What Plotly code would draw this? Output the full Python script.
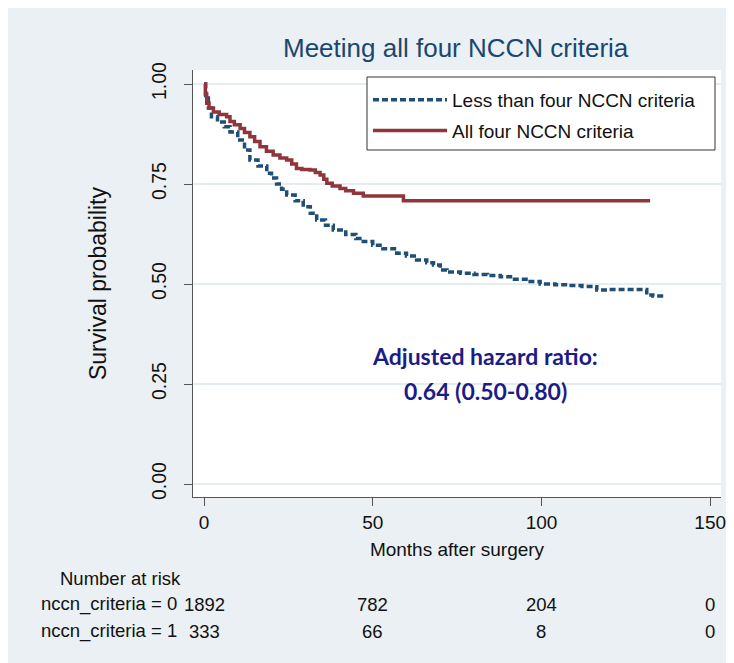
import plotly.graph_objects as go

# ---------------- data ----------------
months_lt4 = [0, 0.5, 1.3, 2.2, 4, 6, 7.7, 10, 12, 13.6, 16, 18.6, 20, 21.5, 23, 24.5, 27, 29.4, 31.5,
              33.4, 36, 38.3, 42, 45, 47.2, 50, 53, 57.1, 60, 63, 66, 68, 70, 72, 76, 80, 84, 87.8,
              92, 96, 99.6, 104, 108, 112, 115.4, 116.4, 120, 125, 130.2, 131.2, 133, 136.2]
surv_lt4 = [1.0, 0.965, 0.94, 0.918, 0.905, 0.893, 0.88, 0.86, 0.835, 0.81, 0.795, 0.777, 0.765, 0.75,
            0.737, 0.7225, 0.708, 0.693, 0.677, 0.66, 0.647, 0.635, 0.624, 0.614, 0.606, 0.597,
            0.588, 0.577, 0.57, 0.56, 0.553, 0.5475, 0.535, 0.53, 0.527, 0.524, 0.521, 0.518, 0.512,
            0.506, 0.50, 0.498, 0.496, 0.494, 0.493, 0.485, 0.486, 0.486, 0.486, 0.4725, 0.47, 0.47]

months_all4 = [0, 0.4, 0.8, 1.5, 2.8, 4.5, 6.7, 7.7, 9, 10.7, 12, 13.6, 15, 16.6, 18.5, 20.5, 22.5,
               24.5, 26, 27.4, 29, 31.4, 33, 34.4, 35.5, 36.4, 38, 40.3, 42, 44.3, 47.2, 58.1, 59.1, 132.2]
surv_all4 = [1.0, 0.975, 0.952, 0.94, 0.93, 0.924, 0.918, 0.906, 0.898, 0.889, 0.879, 0.868, 0.856,
             0.843, 0.832, 0.8225, 0.815, 0.81, 0.80, 0.789, 0.786, 0.785, 0.779, 0.7725, 0.762, 0.752,
             0.745, 0.739, 0.733, 0.727, 0.72, 0.72, 0.708, 0.708]

series_names = ["Less than four NCCN criteria", "All four NCCN criteria"]

risk_times = [0, 50, 100, 150]
risk_labels = ["nccn_criteria = 0", "nccn_criteria = 1"]
risk_lt4 = [1892, 782, 204, 0]
risk_all4 = [333, 66, 8, 0]

y_ticks = [0, 0.25, 0.5, 0.75, 1.0]
y_ticklabels = ["0.00", "0.25", "0.50", "0.75", "1.00"]
x_ticks = [0, 50, 100, 150]

title_text = "Meeting all four NCCN criteria"
hr_lines = ["Adjusted hazard ratio:", "0.64 (0.50-0.80)"]

# ---------------- styling ----------------
BG = "#EAF0F3"
NAVY = "#1a476f"
BLUE = "#1f4e79"
RED = "#90353b"
FONT = "Liberation Sans, Arial, sans-serif"
OFF = 8  # page margin offset of the screenshot

W, H = 734, 663
ML, MR, MT, MB = 185, 21, 62, 174
PW, PH = W - ML - MR, H - MT - MB


def py(ypx):  # screenshot y -> paper y
    return (H - MB - (ypx - OFF)) / PH


def px(xpx):  # screenshot x -> paper x
    return ((xpx - OFF) - ML) / PW


fig = go.Figure()
fig.add_trace(go.Scatter(x=months_lt4, y=surv_lt4, mode="lines", line_shape="hv",
                         name=series_names[0], legendgroup="a",
                         line=dict(color=BLUE, width=3.5, dash="6px,3px")))
fig.add_trace(go.Scatter(x=months_all4, y=surv_all4, mode="lines", line_shape="hv",
                         name=series_names[1], legendgroup="b",
                         line=dict(color=RED, width=3.5)))

annotations = []
annotations.append(dict(text=title_text, xref="paper", yref="paper", x=px(456), y=py(48),
                        showarrow=False, xanchor="center", yanchor="middle",
                        font=dict(family=FONT, size=26, color=NAVY)))
for i, t in enumerate(hr_lines):
    annotations.append(dict(text="<b>" + t + "</b>", xref="paper", yref="paper",
                            x=px(485), y=py(356 + 35 * i), showarrow=False,
                            xanchor="center", yanchor="middle",
                            font=dict(family="Lato, Open Sans, sans-serif", size=23, color="#1c1c86")))
annotations.append(dict(text="Number at risk", xref="paper", yref="paper", x=px(58), y=py(578),
                        showarrow=False, xanchor="left", yanchor="middle",
                        font=dict(family=FONT, size=18.5, color="#111")))
for r, (lab, vals) in enumerate(zip(risk_labels, [risk_lt4, risk_all4])):
    yy = py(604 + 27 * r)
    annotations.append(dict(text=lab, xref="paper", yref="paper", x=px(179), y=yy,
                            showarrow=False, xanchor="right", yanchor="middle",
                            font=dict(family=FONT, size=18.5, color="#111")))
    for t, v in zip(risk_times, vals):
        annotations.append(dict(text=str(v), xref="x", yref="paper", x=t, y=yy,
                                showarrow=False, xanchor="center", yanchor="middle",
                                font=dict(family=FONT, size=18.5, color="#111")))

shapes = [
    # legend frame (legend itself is drawn transparent on top)
    dict(type="rect", xref="paper", yref="paper", x0=px(367), x1=px(715), y0=py(150), y1=py(77),
         line=dict(color="#333", width=1), fillcolor="white", layer="above"),
]

fig.update_layout(
    width=W, height=H,
    margin=dict(l=ML, r=MR, t=MT, b=MB),
    paper_bgcolor=BG, plot_bgcolor="white",
    showlegend=True,
    legend=dict(x=px(368), y=py(81), xanchor="left", yanchor="top",
                bgcolor="rgba(0,0,0,0)", borderwidth=0,
                font=dict(family=FONT, size=19, color="#111"),
                itemwidth=74, tracegroupgap=3),
    annotations=annotations,
    shapes=shapes,
)
fig.update_xaxes(range=[-3.26, 153.2], tickvals=x_ticks, ticks="outside", ticklen=8,
                 tickcolor="#555", showline=True, linecolor="#555", linewidth=1,
                 showgrid=False, zeroline=False,
                 tickfont=dict(family=FONT, size=19, color="#111"),
                 title=dict(text="Months after surgery", standoff=10,
                            font=dict(family=FONT, size=19, color="#111")))
fig.update_yaxes(range=[-0.0325, 1.035], tickvals=y_ticks, ticktext=y_ticklabels, tickangle=-90,
                 ticks="outside", ticklen=8, tickcolor="#555", showline=True, linecolor="#555",
                 linewidth=1, showgrid=True, gridcolor="#E6EDF0", gridwidth=1.5, zeroline=False,
                 ticklabelstandoff=10,
                 tickfont=dict(family=FONT, size=19.5, color="#111"),
                 title=dict(text="Survival probability", standoff=35,
                            font=dict(family=FONT, size=23, color="#111")))

fig.write_html("out.html")
